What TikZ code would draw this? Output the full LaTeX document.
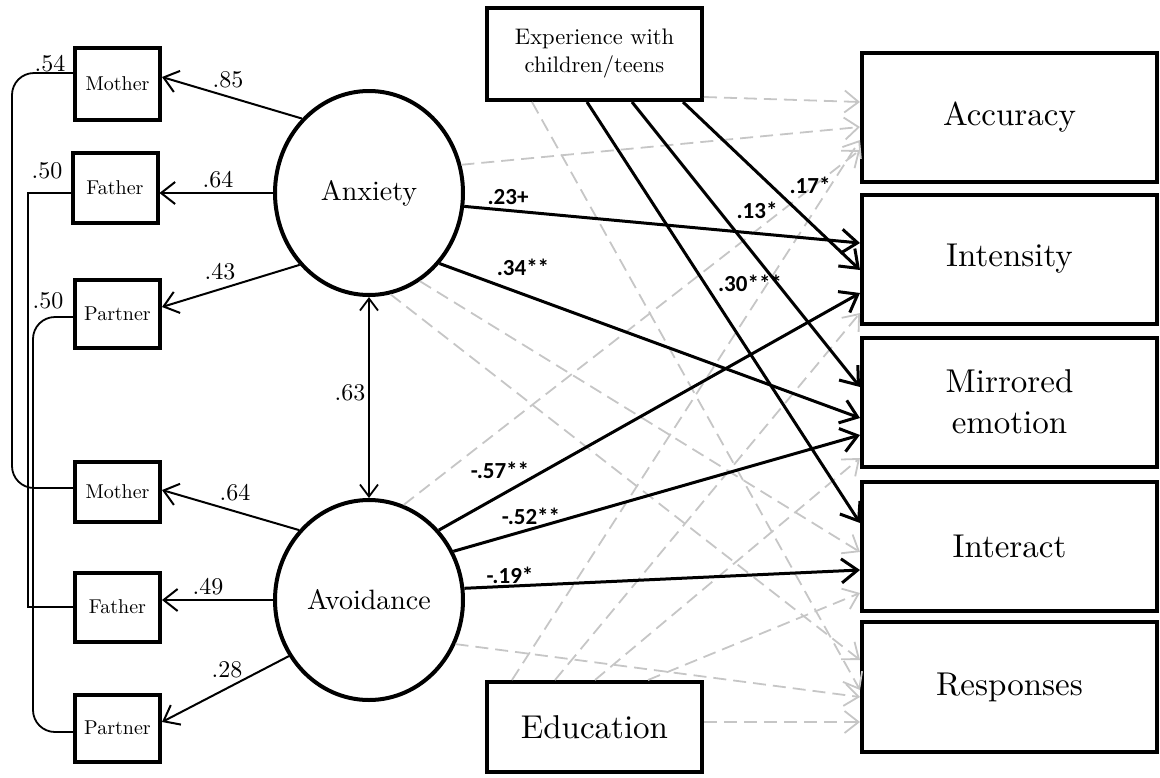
\documentclass[tikz,border=0pt]{standalone}
\usepackage{fontspec}
\setmainfont{lmroman10-regular.otf}
\newfontfamily\carlito{Carlito}
\usetikzlibrary{arrows.meta,shapes.geometric}
\definecolor{nsgray}{RGB}{198,198,198}
\begin{document}
\begin{tikzpicture}[x=1pt,y=-1pt,
  box/.style={draw, line width=4pt, inner sep=0pt, align=center},
  outc/.style={box, minimum width=295pt, minimum height=129pt, font=\fontsize{33}{41}\selectfont},
  ind/.style={box, minimum width=85pt, font=\fontsize{20}{22}\selectfont},
  lat/.style={draw, ellipse, line width=4pt, inner sep=0pt, minimum width=188pt, font=\fontsize{28}{30}\selectfont},
  load/.style={line width=2pt, -{Straight Barb[length=14pt,width=22pt]}},
  sig/.style={line width=3pt, -{Straight Barb[length=16pt,width=24pt]}},
  ns/.style={line width=1.8pt, draw=nsgray, dash pattern=on 13pt off 7pt, -{Straight Barb[length=14pt,width=22pt]}},
  cov/.style={line width=1.8pt},
  num/.style={font=\fontsize{24}{26}\selectfont, inner sep=0pt},
  bnum/.style={font=\carlito\bfseries\fontsize{23}{25}\selectfont, inner sep=0pt}]
\useasboundingbox (0,0) rectangle (1160,777);

% outcome boxes
\node[outc] (Acc) at (1009.5,117.5) {Accuracy};
\node[outc] (Int) at (1009.5,259) {Intensity};
\node[outc] (Mir) at (1009.5,402) {Mirrored\\emotion};
\node[outc] (Inr) at (1009.5,546) {Interact};
\node[outc, minimum height=130pt] (Rsp) at (1009.5,687) {Responses};

% covariates
\node[box, minimum width=215pt, minimum height=92pt, font=\fontsize{22.5}{28}\selectfont] (Exp) at (594.5,54) {Experience with\\children/teens};
\node[box, minimum width=215pt, minimum height=90pt, font=\fontsize{33}{36}\selectfont] (Edu) at (594.5,727) {Education};

% latent
\node[lat, minimum height=204pt] (Anx) at (369,193) {Anxiety};
\node[lat, minimum height=200pt] (Avo) at (369,600) {Avoidance};

% indicators
\node[ind, minimum height=72pt] (M1) at (117.5,84) {Mother};
\node[ind, minimum height=70pt] (F1) at (115,188) {Father};
\node[ind, minimum height=68pt] (P1) at (117.5,314) {Partner};
\node[ind, minimum height=60pt] (M2) at (117.5,492) {Mother};
\node[ind, minimum height=69pt] (F2) at (117.5,607) {Father};
\node[ind, minimum height=67pt] (P2) at (117.5,728) {Partner};

% non-significant paths
\draw[ns] (Anx.17) -- ([yshift=-9.5pt]Acc.west);
\draw[ns] (Anx.-60) -- ([yshift=-6pt]Inr.west);
\draw[ns] (Anx.-78) -- ([yshift=27pt]Rsp.west);
\draw[ns] (Avo.70) -- ([yshift=-32.5pt]Acc.west);
\draw[ns] (Avo.-27) -- ([yshift=-10pt]Rsp.west);
\draw[ns] ([yshift=5pt]Exp.south east) -- ([yshift=15.5pt]Acc.west);
\draw[ns] ([xshift=-62.5pt]Exp.south) -- ([yshift=-3pt]Rsp.west);
\draw[ns] ([xshift=-82.5pt]Edu.north) -- ([yshift=-22.5pt]Acc.west);
\draw[ns] ([xshift=-39.5pt]Edu.north) -- ([yshift=-54pt]Int.west);
\draw[ns] ([xshift=0.5pt]Edu.north) -- ([yshift=-56pt]Mir.west);
\draw[ns] ([xshift=53.5pt]Edu.north) -- ([yshift=-47pt]Inr.west);
\draw[ns] ([yshift=5pt]Edu.east) -- ([yshift=-35pt]Rsp.west);

% significant paths
\draw[sig] (Anx.-8) -- ([yshift=16pt]Int.west);
\draw[sig] (Anx.-45) -- ([yshift=-16pt]Mir.west);
\draw[sig] ([xshift=88.5pt]Exp.south) -- ([yshift=-11pt]Int.west);
\draw[sig] ([xshift=37.5pt]Exp.south) -- ([yshift=15pt]Mir.west);
\draw[sig] ([xshift=-7.5pt]Exp.south) -- ([yshift=23pt]Inr.west);
\draw[sig] (Avo.45) -- ([yshift=-34pt]Int.west);
\draw[sig] (Avo.30) -- ([yshift=-33pt]Mir.west);
\draw[sig] (Avo.7) -- ([yshift=-24pt]Inr.west);

% loadings
\draw[load] (Anx.132) -- ([yshift=7pt]M1.east);
\draw[load] (Anx.west) -- (F1.east |- Anx.west);
\draw[load] (Anx.-134) -- ([yshift=7pt]P1.east);
\draw[load] (Avo.135) -- ([yshift=2pt]M2.east);
\draw[load] (Avo.west) -- (F2.east |- Avo.west);
\draw[load] (Avo.215) -- ([yshift=6pt]P2.east);

% factor correlation
\draw[line width=1.8pt, {Straight Barb[length=12pt,width=18pt]}-{Straight Barb[length=12pt,width=18pt]}] (Anx.south) -- (Avo.north);

% residual covariances
\draw[cov, rounded corners=22pt] ([yshift=11pt]M1.west) -| (12,300) |- ([yshift=4pt]M2.west);
\draw[cov] ([yshift=-5pt]F1.west) -| (28,400) |- (F2.west);
\draw[cov, rounded corners=22pt] ([yshift=-3pt]P1.west) -| (33,500) |- ([yshift=-4pt]P2.west);

% labels
\node[num] (l54) at (50,64) {.54};
\node[num] (l50a) at (47,171) {.50};
\node[num] (l50b) at (48,301) {.50};
\node[num] (l85) at (228,80) {.85};
\node[num] (l64a) at (218,180) {.64};
\node[num] (l43) at (220,272) {.43};
\node[num] (l64b) at (235,493) {.64};
\node[num] (l49) at (208,587) {.49};
\node[num] (l28) at (227,670) {.28};
\node[num] (l63) at (350,393) {.63};

\node[bnum] (b23) at (508,197) {.23+};
\node[bnum] (b34) at (523,267) {.34**};
\node[bnum] (b17) at (810,185) {.17*};
\node[bnum] (b13) at (757,210) {.13*};
\node[bnum] (b30) at (750,283) {.30***};
\node[bnum] (b57) at (500,470) {-.57**};
\node[bnum] (b52) at (531,516) {-.52**};
\node[bnum] (b19) at (510,575) {-.19*};
\end{tikzpicture}
\end{document}
